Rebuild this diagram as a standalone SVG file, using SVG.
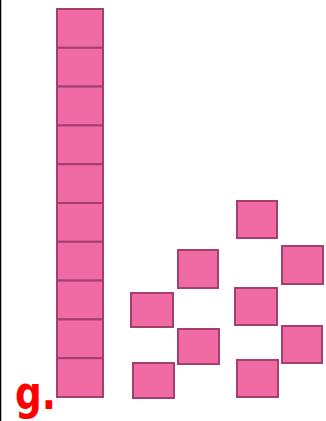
<svg xmlns="http://www.w3.org/2000/svg" width="326" height="421" viewBox="0 0 326 421">
<style>
.cell{fill:#f06aa3;stroke:#a43f6f;stroke-width:2}
.sq{fill:#f06aa3;stroke:#a43f6f;stroke-width:2}
.lbl{font-family:"DejaVu Sans","Liberation Sans",sans-serif;font-weight:bold;font-size:46px;fill:#ff0000}
</style>
<rect x="0" y="0" width="326" height="421" fill="#ffffff"/>
<line x1="0.5" y1="0" x2="0.5" y2="421" stroke="#000" stroke-width="1.5"/>
<g id="rod">
<rect class="cell" x="57" y="9" width="46" height="38.8"/>
<rect class="cell" x="57" y="47.8" width="46" height="38.8"/>
<rect class="cell" x="57" y="86.6" width="46" height="38.8"/>
<rect class="cell" x="57" y="125.4" width="46" height="38.8"/>
<rect class="cell" x="57" y="164.2" width="46" height="38.8"/>
<rect class="cell" x="57" y="203" width="46" height="38.8"/>
<rect class="cell" x="57" y="241.8" width="46" height="38.8"/>
<rect class="cell" x="57" y="280.6" width="46" height="38.8"/>
<rect class="cell" x="57" y="319.4" width="46" height="38.8"/>
<rect class="cell" x="57" y="358.2" width="46" height="38.8"/>
</g>
<g id="ones-left">
<rect class="sq" x="178" y="250" width="40" height="38"/>
<rect class="sq" x="131" y="293" width="42" height="34"/>
<rect class="sq" x="178" y="329" width="41" height="35"/>
<rect class="sq" x="133" y="363" width="41" height="35"/>
</g>
<g id="ones-right">
<rect class="sq" x="237" y="201" width="40" height="37"/>
<rect class="sq" x="282" y="246" width="41" height="38"/>
<rect class="sq" x="235" y="288" width="42" height="37"/>
<rect class="sq" x="282" y="326" width="40" height="37"/>
<rect class="sq" x="237" y="360" width="41" height="37"/>
</g>
<g id="label">
<text class="lbl" x="15" y="409" textLength="41" lengthAdjust="spacingAndGlyphs">g.</text>
</g>
</svg>
